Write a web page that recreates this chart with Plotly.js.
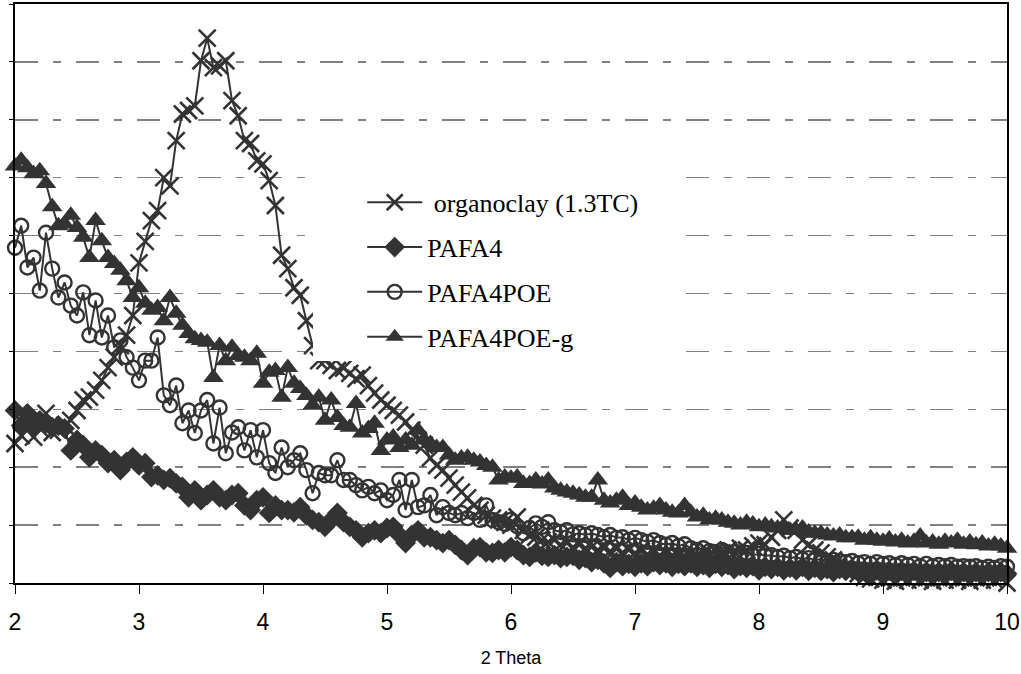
<!DOCTYPE html>
<html>
<head>
<meta charset="utf-8">
<script src="https://cdn.plot.ly/plotly-3.0.1.min.js"></script>
<style>html,body{margin:0;padding:0;background:#fff;}#chart{width:1021px;height:674px;}</style>
</head>
<body>
<div id="chart"></div>
<script>
// 2 Theta sampling positions
const theta = [
2.00,2.05,2.10,2.15,2.20,2.25,2.30,2.35,2.40,2.45,2.50,2.55,2.60,2.65,2.70,2.75,2.80,2.85,2.90,2.95,
3.00,3.05,3.10,3.15,3.20,3.25,3.30,3.35,3.40,3.45,3.50,3.55,3.60,3.65,3.70,3.75,3.80,3.85,3.90,3.95,
4.00,4.05,4.10,4.15,4.20,4.25,4.30,4.35,4.40,4.45,4.50,4.55,4.60,4.65,4.70,4.75,4.80,4.85,4.90,4.95,
5.00,5.05,5.10,5.15,5.20,5.25,5.30,5.35,5.40,5.45,5.50,5.55,5.60,5.65,5.70,5.75,5.80,5.85,5.90,5.95,
6.00,6.05,6.10,6.15,6.20,6.25,6.30,6.35,6.40,6.45,6.50,6.55,6.60,6.65,6.70,6.75,6.80,6.85,6.90,6.95,
7.00,7.05,7.10,7.15,7.20,7.25,7.30,7.35,7.40,7.45,7.50,7.55,7.60,7.65,7.70,7.75,7.80,7.85,7.90,7.95,
8.00,8.05,8.10,8.15,8.20,8.25,8.30,8.35,8.40,8.45,8.50,8.55,8.60,8.65,8.70,8.75,8.80,8.85,8.90,8.95,
9.00,9.05,9.10,9.15,9.20,9.25,9.30,9.35,9.40,9.45,9.50,9.55,9.60,9.65,9.70,9.75,9.80,9.85,9.90,9.95,
10.00];

const organoclay = [
2.41,2.55,2.64,2.52,2.67,2.93,2.60,2.64,2.72,2.81,2.98,3.16,3.21,3.33,3.50,3.72,3.90,4.10,4.28,4.62,
5.53,5.90,6.26,6.43,7.00,6.86,7.64,8.10,8.16,8.24,9.02,9.41,8.90,8.93,9.02,8.33,8.07,7.64,7.59,7.29,
7.24,6.95,6.52,5.66,5.43,5.10,4.97,4.53,4.10,3.84,3.84,3.76,3.67,3.71,3.62,3.53,3.59,3.41,3.28,3.16,
3.07,2.98,2.90,2.78,2.64,2.47,2.38,2.16,2.03,1.95,1.81,1.69,1.57,1.47,1.34,1.26,1.17,1.12,1.09,1.05,
1.00,1.14,0.91,0.83,0.79,0.74,0.71,0.74,0.66,0.69,0.62,0.66,0.60,0.62,0.57,0.60,0.55,0.59,0.53,0.57,
0.52,0.55,0.50,0.53,0.48,0.53,0.48,0.52,0.47,0.52,0.48,0.53,0.50,0.55,0.52,0.57,0.53,0.60,0.57,0.64,
0.69,0.66,0.79,0.91,1.09,0.95,0.91,0.74,0.66,0.57,0.52,0.45,0.40,0.34,0.29,0.22,0.16,0.10,0.07,0.10,
0.05,0.09,0.03,0.09,0.05,0.10,0.05,0.09,0.03,0.09,0.05,0.10,0.05,0.09,0.03,0.09,0.05,0.10,0.05,0.09,
0.00];

const pafa4 = [
2.98,2.72,2.93,2.69,2.81,2.76,2.69,2.72,2.67,2.29,2.47,2.38,2.17,2.29,2.21,2.07,2.12,1.95,2.09,2.17,
2.03,2.07,1.83,1.86,1.78,1.81,1.72,1.66,1.48,1.60,1.43,1.52,1.60,1.48,1.43,1.52,1.55,1.34,1.26,1.43,
1.48,1.21,1.34,1.26,1.26,1.22,1.31,1.17,1.09,1.05,0.97,1.09,1.21,1.05,0.97,0.91,0.79,0.86,0.91,0.86,
0.95,0.97,0.83,0.69,0.83,0.91,0.79,0.79,0.74,0.69,0.74,0.66,0.57,0.48,0.60,0.62,0.53,0.52,0.57,0.53,
0.62,0.57,0.48,0.45,0.53,0.47,0.45,0.48,0.43,0.45,0.47,0.40,0.43,0.36,0.40,0.34,0.26,0.36,0.29,0.33,
0.28,0.34,0.29,0.36,0.31,0.34,0.28,0.33,0.29,0.34,0.28,0.31,0.26,0.33,0.28,0.31,0.24,0.29,0.26,0.29,
0.22,0.28,0.24,0.28,0.22,0.26,0.22,0.28,0.21,0.26,0.21,0.24,0.19,0.24,0.21,0.24,0.19,0.22,0.19,0.22,
0.17,0.21,0.17,0.21,0.17,0.21,0.16,0.19,0.16,0.19,0.17,0.21,0.16,0.19,0.16,0.19,0.14,0.19,0.16,0.19,
0.16];

const pafa4poe = [
5.79,6.17,5.45,5.62,5.05,6.05,5.43,4.93,5.19,4.79,4.62,5.02,4.28,4.88,4.24,4.62,4.07,4.19,3.90,3.72,
3.50,3.84,3.84,4.24,3.24,3.07,3.41,2.76,2.98,2.59,2.98,3.16,2.41,3.03,2.24,2.60,2.69,2.29,2.64,2.17,
2.64,2.07,1.90,2.34,2.00,2.12,2.24,1.95,1.55,1.90,1.86,1.86,2.12,1.78,1.78,1.69,1.60,1.66,1.55,1.60,
1.43,1.52,1.78,1.26,1.78,1.31,1.34,1.52,1.17,1.31,1.21,1.17,1.21,1.12,1.21,1.09,1.34,1.09,1.05,1.02,
1.09,0.98,0.86,0.95,1.03,0.97,1.05,0.91,0.88,0.91,0.84,0.86,0.83,0.86,0.83,0.79,0.83,0.78,0.79,0.74,
0.78,0.74,0.71,0.74,0.69,0.66,0.69,0.64,0.67,0.60,0.57,0.60,0.55,0.53,0.57,0.52,0.53,0.50,0.52,0.48,
0.50,0.47,0.48,0.45,0.47,0.43,0.45,0.41,0.43,0.40,0.41,0.38,0.40,0.38,0.36,0.38,0.34,0.36,0.33,0.36,
0.33,0.34,0.31,0.34,0.31,0.33,0.29,0.33,0.29,0.31,0.29,0.31,0.28,0.29,0.28,0.29,0.26,0.28,0.26,0.29,
0.28];

const pafa4poeG = [
7.20,7.30,7.17,7.07,7.12,6.90,6.50,6.17,6.20,6.35,6.14,5.97,5.62,6.26,5.91,5.62,5.52,5.40,5.22,4.93,
5.10,4.83,4.71,4.76,4.53,4.93,4.66,4.45,4.31,4.22,4.19,4.16,3.55,4.10,3.84,4.07,3.93,3.90,3.84,3.97,
3.45,3.64,3.67,3.21,3.72,3.45,3.36,3.24,3.07,3.21,2.81,3.16,2.86,2.72,2.69,3.10,2.59,2.67,2.76,2.29,
2.47,2.52,2.34,2.47,2.38,2.64,2.47,2.41,2.34,2.34,2.21,2.12,2.16,2.17,2.12,2.09,2.03,2.00,1.78,1.83,
1.81,1.83,1.72,1.72,1.78,1.71,1.78,1.64,1.60,1.57,1.55,1.52,1.48,1.48,1.78,1.43,1.38,1.43,1.48,1.34,
1.38,1.31,1.26,1.29,1.34,1.26,1.22,1.21,1.34,1.22,1.14,1.17,1.09,1.12,1.09,1.05,1.03,1.00,1.05,1.02,
0.97,1.00,0.97,0.95,0.98,0.91,0.91,0.95,0.88,0.86,0.86,0.83,0.81,0.83,0.78,0.78,0.79,0.74,0.78,0.74,
0.72,0.76,0.71,0.74,0.69,0.72,0.81,0.69,0.71,0.67,0.72,0.69,0.74,0.67,0.71,0.66,0.69,0.64,0.67,0.64,
0.60];

const seriesNames = ['\u00a0organoclay (1.3TC)', 'PAFA4', 'PAFA4POE', 'PAFA4POE-g'];
const xTickVals = [2,3,4,5,6,7,8,9,10];
const xTickText = ['2','3','4','5','6','7','8','9','10'];

const ink = '#333333';
const sansFont = 'Liberation Sans, Arial, sans-serif';
function trace(y, name, marker, group) {
  return {
    x: theta, y: y, name: name, type: 'scatter', mode: 'lines+markers',
    line: {color: ink, width: 2},
    marker: marker, cliponaxis: false, legendgroup: group
  };
}

const data = [
  trace(organoclay, seriesNames[0], {symbol: 'x-thin-open', size: 17, color: ink, line: {color: ink, width: 2.6}}, 'g1'),
  trace(pafa4, seriesNames[1], {symbol: 'diamond', size: 16, color: ink, line: {width: 0}}, 'g2'),
  trace(pafa4poe, seriesNames[2], {symbol: 'circle-open', size: 14, color: ink, line: {color: ink, width: 2.4}}, 'g3'),
  trace(pafa4poeG, seriesNames[3], {symbol: 'triangle-up', size: 18, color: ink, line: {width: 0}}, 'g4')
];

const layout = {
  width: 1021, height: 674,
  margin: {l: 15, r: 14, t: 4, b: 91, pad: 0},
  paper_bgcolor: '#ffffff', plot_bgcolor: '#ffffff',
  showlegend: true,
  legend: {
    x: 0.350, xanchor: 'left', y: 0.698, yanchor: 'top',
    bgcolor: 'rgba(0,0,0,0)', borderwidth: 0,
    font: {family: 'Liberation Serif, Times New Roman, serif', size: 26, color: '#000'},
    itemwidth: 55, tracegroupgap: 8, traceorder: 'grouped'
  },
  xaxis: {
    range: [2, 10], tickmode: 'array', tickvals: xTickVals, ticktext: xTickText,
    ticks: 'outside', ticklen: 9, tickwidth: 1, tickcolor: '#000',
    ticklabelstandoff: 8,
    showline: true, linewidth: 2, linecolor: '#000', mirror: true,
    showgrid: false, zeroline: false,
    tickfont: {family: sansFont, size: 23, color: '#000'},
    title: {text: '2 Theta', font: {family: sansFont, size: 18, color: '#000'}, standoff: 18}
  },
  yaxis: {
    range: [0, 10], dtick: 1, tick0: 0,
    ticks: 'outside', ticklen: 4, tickwidth: 1, tickcolor: '#000',
    showticklabels: false,
    showline: true, linewidth: 2, linecolor: '#000', mirror: true,
    showgrid: true, gridcolor: '#808080', gridwidth: 1.5, griddash: '23px,15px,8px,15px',
    zeroline: false
  },
  shapes: [{
    type: 'rect', xref: 'paper', yref: 'paper', layer: 'above',
    x0: 0.3004, x1: 0.6704, y0: 0.3834, y1: 0.7219,
    fillcolor: '#ffffff', line: {width: 0}
  }]
};

Plotly.newPlot('chart', data, layout, {displayModeBar: false, staticPlot: true});
</script>
</body>
</html>
